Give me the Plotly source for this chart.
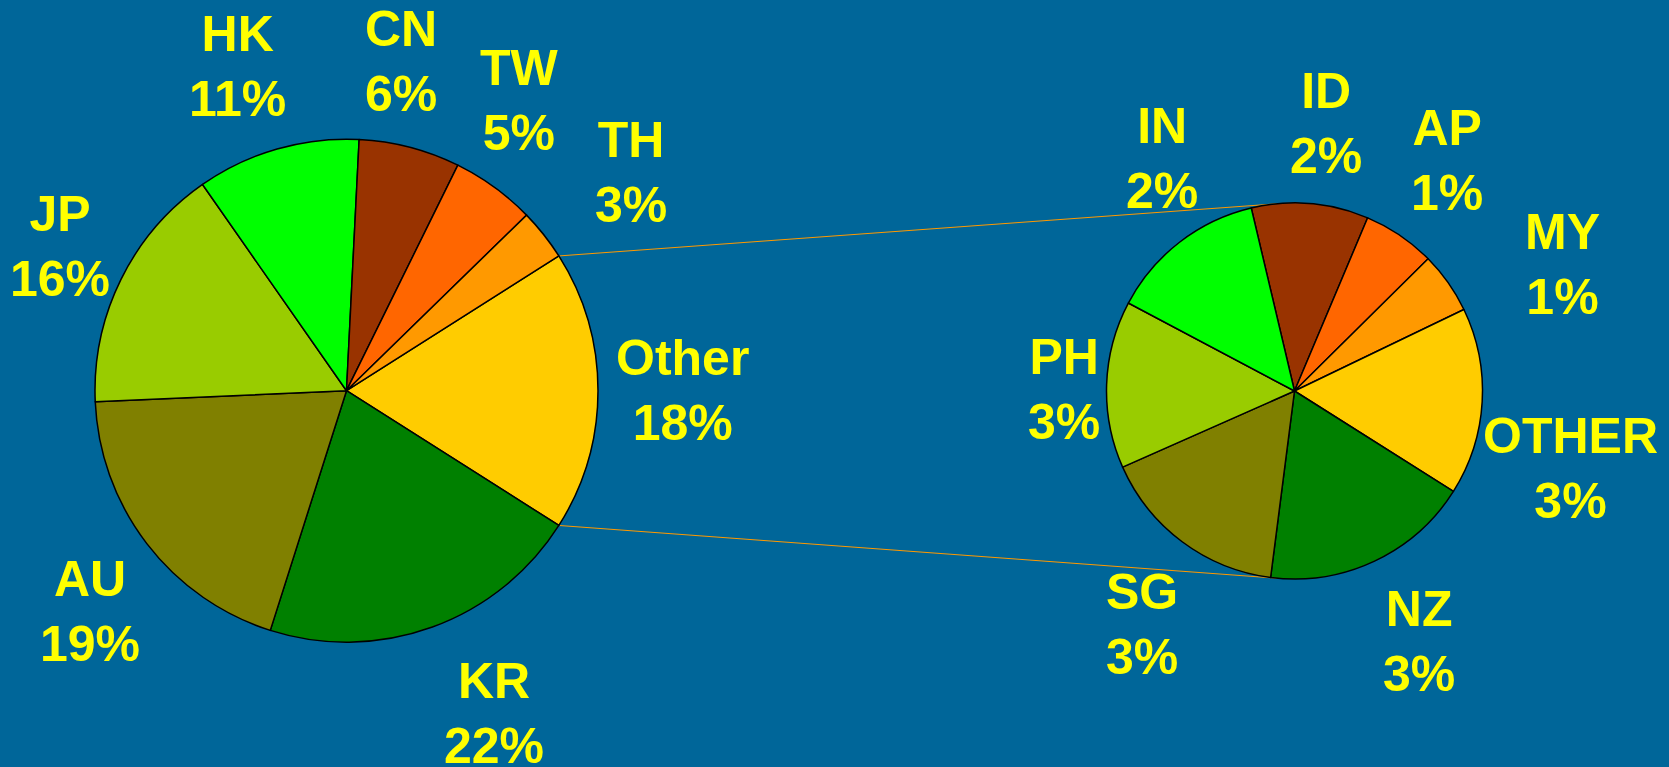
import math
import plotly.graph_objects as go

# ---------------- data ----------------
main_labels = ["Other", "KR", "AU", "JP", "HK", "CN", "TW", "TH"]
main_values = [18.0, 20.9, 19.4, 16.0, 10.5, 6.5, 5.4, 3.3]
main_pct = ["18%", "22%", "19%", "16%", "11%", "6%", "5%", "3%"]

sub_labels = ["ID", "AP", "MY", "OTHER", "NZ", "SG", "PH", "IN"]
sub_values = [1.81, 1.12, 0.95, 2.90, 3.25, 2.94, 2.59, 2.44]
sub_pct = ["2%", "1%", "1%", "3%", "3%", "3%", "3%", "2%"]

# ---------------- style / layout ----------------
W, H = 1669, 767
BG = "#006699"
TXT = "#FFFF00"
FS = 50
GAP = 23
main_colors = ["#FFCC00", "#008000", "#808000", "#99CC00", "#00FF00", "#993300", "#FF6600", "#FF9900"]
sub_colors = ["#993300", "#FF6600", "#FF9900", "#FFCC00", "#008000", "#808000", "#99CC00", "#00FF00"]

MAIN_C, MAIN_R = (346.5, 390.7), 251.5
SUB_C, SUB_R = (1294.5, 391.0), 188.0
main_rot = 90 - main_values[0] / sum(main_values) * 180  # split slice centred at 3 o'clock
sub_rot = -13.3

# label placement tweaks (best-fit style): angular shift (deg) and radial extra (px)
main_lbl_dang = [0, -4.6, -3.2, 0.4, -2.6, -5.2, -5.2, 0.9]
main_lbl_dr = [-5, 13.5, -7, -21, 4, 3, 0, 24.5]
sub_lbl_dang = [2, -0.7, 9.9, 12.3, -1.25, -3.45, -1.75, 7.9]
sub_lbl_dr = [3.7, 3.5, 30, -22, 7, 6, -16.7, -5.3]

# Arial-bold advance widths (em)
WID = {"A": .722, "C": .722, "D": .722, "E": .667, "G": .778, "H": .722, "I": .278,
       "J": .556, "K": .722, "M": .833, "N": .722, "O": .778, "P": .667, "R": .722,
       "S": .667, "T": .611, "U": .722, "W": .944, "Y": .667, "Z": .611, "t": .333,
       "h": .611, "e": .556, "r": .389, "%": .889}


def text_w(s):
    return sum(WID.get(ch, .556) for ch in s) * FS


def domain(c, r):
    cx, cy = c
    return dict(x=[(cx - r) / W, (cx + r) / W], y=[1 - (cy + r) / H, 1 - (cy - r) / H])


def pt(c, r, ang):
    th = math.radians(ang)
    return c[0] + r * math.sin(th), c[1] - r * math.cos(th)


def labels_for(c, r, labels, values, pcts, rot, dangs, drs):
    out = []
    tot = sum(values)
    a = rot
    half_h = 0.5 * (FS * 1.3 + FS * 0.72)
    for lab, v, p, da, dr in zip(labels, values, pcts, dangs, drs):
        mid = a + v / tot * 180
        a += v / tot * 360
        th = math.radians(mid + da)
        sx, sy = math.sin(th), -math.cos(th)
        half_w = max(text_w(lab), text_w(p)) / 2
        d = r + GAP + half_w * abs(sx) + half_h * abs(sy) + dr
        px, py = c[0] + d * sx, c[1] + d * sy
        out.append(dict(x=px / W, y=1 - py / H, xref="paper", yref="paper",
                        text=f"{lab}<br>{p}", showarrow=False,
                        xanchor="center", yanchor="middle", align="center",
                        font=dict(family="Arial, Liberation Sans, sans-serif", size=FS,
                                  color=TXT, weight="bold")))
    return out


def tangent(P, c, r, upper):
    dx, dy = P[0] - c[0], P[1] - c[1]
    d = math.hypot(dx, dy)
    base = math.atan2(dy, dx)
    al = math.acos(r / d)
    cands = [(c[0] + r * math.cos(base + s * al), c[1] + r * math.sin(base + s * al)) for s in (1, -1)]
    return min(cands, key=lambda q: q[1]) if upper else max(cands, key=lambda q: q[1])


fig = go.Figure()
fig.add_trace(go.Pie(labels=main_labels, values=main_values, sort=False, direction="clockwise",
                     rotation=main_rot, textinfo="none", hoverinfo="label+percent",
                     marker=dict(colors=main_colors, line=dict(color="#000000", width=1.5)),
                     domain=domain(MAIN_C, MAIN_R), showlegend=False))
fig.add_trace(go.Pie(labels=sub_labels, values=sub_values, sort=False, direction="clockwise",
                     rotation=sub_rot, textinfo="none", hoverinfo="label",
                     marker=dict(colors=sub_colors, line=dict(color="#000000", width=1.5)),
                     domain=domain(SUB_C, SUB_R), showlegend=False))

ann = labels_for(MAIN_C, MAIN_R, main_labels, main_values, main_pct, main_rot, main_lbl_dang, main_lbl_dr)
ann += labels_for(SUB_C, SUB_R, sub_labels, sub_values, sub_pct, sub_rot, sub_lbl_dang, sub_lbl_dr)

# connector lines from the split slice edges to the secondary pie
other_span = main_values[0] / sum(main_values) * 360
p_top = pt(MAIN_C, MAIN_R, main_rot)
p_bot = pt(MAIN_C, MAIN_R, main_rot + other_span)
q_top = tangent(p_top, SUB_C, SUB_R, True)
q_bot = tangent(p_bot, SUB_C, SUB_R, False)
shapes = []
for a_, b_ in ((p_top, q_top), (p_bot, q_bot)):
    shapes.append(dict(type="line", xref="paper", yref="paper",
                       x0=a_[0] / W, y0=1 - a_[1] / H, x1=b_[0] / W, y1=1 - b_[1] / H,
                       line=dict(color="#FF9900", width=1), layer="below"))

fig.update_layout(width=W, height=H, autosize=False,
                  margin=dict(l=0, r=0, t=0, b=0),
                  paper_bgcolor=BG, plot_bgcolor=BG,
                  annotations=ann, shapes=shapes, showlegend=False)

fig.write_html("out.html", config={"displayModeBar": False},
               post_script="document.body.style.margin='0';document.body.style.background='#006699';")
